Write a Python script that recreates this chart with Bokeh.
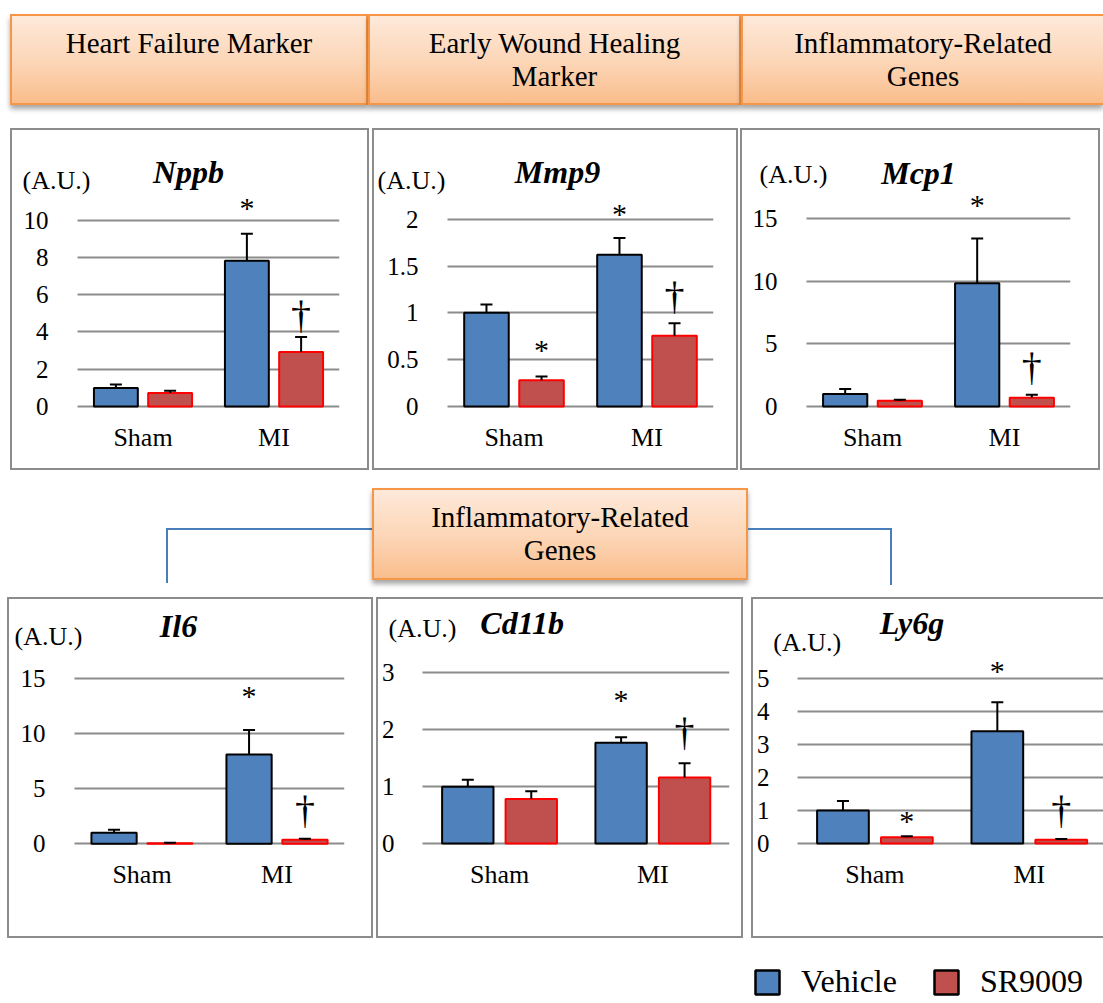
from bokeh.plotting import figure
from bokeh.models import (Range1d, FixedTicker, ColumnDataSource, Whisker, TeeHead, Label,
                          Div, Spacer, Legend, LegendItem, NumeralTickFormatter, Grid)
from bokeh.layouts import row, column
from bokeh.embed import file_html
from bokeh.resources import INLINE
from bokeh.core.properties import value

# ---------------- data ----------------
categories = ["Sham", "MI"]
series_names = ["Vehicle", "SR9009"]

nppb_vehicle = [1.00, 7.82]
nppb_vehicle_err = [0.18, 1.45]
nppb_sr9009 = [0.73, 2.92]
nppb_sr9009_err = [0.12, 0.81]
nppb_ticks = [0, 2, 4, 6, 8, 10]
nppb_mark_cat = ["MI", "MI"]
nppb_mark_series = ["Vehicle", "SR9009"]
nppb_mark_sym = ["*", "†"]
nppb_mark_y = [10.7, 4.92]

mmp9_vehicle = [1.00, 1.62]
mmp9_vehicle_err = [0.09, 0.18]
mmp9_sr9009 = [0.28, 0.755]
mmp9_sr9009_err = [0.04, 0.135]
mmp9_ticks = [0, 0.5, 1, 1.5, 2]
mmp9_mark_cat = ["Sham", "MI", "MI"]
mmp9_mark_series = ["SR9009", "Vehicle", "SR9009"]
mmp9_mark_sym = ["*", "*", "†"]
mmp9_mark_y = [0.61, 2.06, 1.18]

mcp1_vehicle = [1.00, 9.84]
mcp1_vehicle_err = [0.40, 3.56]
mcp1_sr9009 = [0.45, 0.69]
mcp1_sr9009_err = [0.08, 0.24]
mcp1_ticks = [0, 5, 10, 15]
mcp1_mark_cat = ["MI", "MI"]
mcp1_mark_series = ["Vehicle", "SR9009"]
mcp1_mark_sym = ["*", "†"]
mcp1_mark_y = [16.1, 3.19]

il6_vehicle = [1.00, 8.09]
il6_vehicle_err = [0.27, 2.21]
il6_sr9009 = [0.06, 0.38]
il6_sr9009_err = [0.04, 0.08]
il6_ticks = [0, 5, 10, 15]
il6_mark_cat = ["MI", "MI"]
il6_mark_series = ["Vehicle", "SR9009"]
il6_mark_sym = ["*", "†"]
il6_mark_y = [13.4, 3.15]

cd11b_vehicle = [1.00, 1.77]
cd11b_vehicle_err = [0.12, 0.10]
cd11b_sr9009 = [0.785, 1.16]
cd11b_sr9009_err = [0.135, 0.25]
cd11b_ticks = [0, 1, 2, 3]
cd11b_mark_cat = ["MI", "MI"]
cd11b_mark_series = ["Vehicle", "SR9009"]
cd11b_mark_sym = ["*", "†"]
cd11b_mark_y = [2.53, 1.97]

ly6g_vehicle = [1.00, 3.40]
ly6g_vehicle_err = [0.29, 0.88]
ly6g_sr9009 = [0.19, 0.11]
ly6g_sr9009_err = [0.03, 0.03]
ly6g_ticks = [0, 1, 2, 3, 4, 5]
ly6g_mark_cat = ["Sham", "MI", "MI"]
ly6g_mark_series = ["SR9009", "Vehicle", "SR9009"]
ly6g_mark_sym = ["*", "*", "†"]
ly6g_mark_y = [0.70, 5.24, 1.03]

header_top = ["Heart Failure Marker", "Early Wound Healing<br>Marker", "Inflammatory-Related<br>Genes"]
header_mid = "Inflammatory-Related<br>Genes"

# ---------------- style ----------------
BLUE = "#4F81BD"
RED = "#C0504D"
RED_LINE = "#FF0000"
GRID = "#8c8c8c"
SERIF = "Liberation Serif"
BAR_W = 0.335
BAR_OFF = 0.207
FRAME_PAD = 3
fill_colors = {"Vehicle": BLUE, "SR9009": RED}
line_colors = {"Vehicle": "black", "SR9009": RED_LINE}
offsets = {"Vehicle": -BAR_OFF, "SR9009": BAR_OFF}
HAS_CROSS = "cross_bounds" in Grid.properties()


def make_panel(title, vehicle, vehicle_err, sr, sr_err, ticks,
               mark_cat, mark_series, mark_sym, mark_y, geo):
    W, H = geo["w"], geo["h"]
    g0, g1 = geo["g0"], geo["g1"]          # plot area (grid) left/right in px
    zero, tick_px = geo["zero"], geo["tick"]
    fl = FRAME_PAD
    ft = FRAME_PAD
    fr = max(W - g1, 0)
    scale = (zero - tick_px) / ticks[-1]
    cat_px = geo.get("cat_px", (g1 - g0) / len(categories))
    x_start = -0.5 - (g0 - fl) / cat_px
    x_end = -0.5 + (W - fr - g0) / cat_px
    grid_end = -0.5 + (min(g1, W - fr) - g0) / cat_px
    y_start = -3.0 / scale
    y_end = (zero - ft) / scale
    styles = {"border": "2px solid #8c8c8c", "box-sizing": "border-box"}
    if geo.get("no_right_border"):
        styles["border-right"] = "none"
    p = figure(width=W, height=H, x_range=Range1d(x_start, x_end),
               y_range=Range1d(y_start, y_end), output_backend="svg",
               toolbar_location=None, min_border=0,
               min_border_left=fl, min_border_right=fr, min_border_top=ft,
               min_border_bottom=H - zero - 3, styles=styles, margin=0)
    p.outline_line_color = None
    p.xgrid.visible = False
    yt = FixedTicker(ticks=ticks)
    p.yaxis.ticker = yt
    p.yaxis.formatter = NumeralTickFormatter(format="0.[0]")
    if HAS_CROSS:
        p.ygrid.ticker = yt
        p.ygrid.grid_line_color = GRID
        p.ygrid.grid_line_width = 2
        p.ygrid.cross_bounds = (-0.5, grid_end)
    else:
        p.ygrid.visible = False
        p.segment(x0=[-0.5] * len(ticks), x1=[grid_end] * len(ticks), y0=ticks, y1=ticks,
                  line_color=GRID, line_width=2, level="underlay")
    idx = list(range(len(categories)))
    p.xaxis.ticker = FixedTicker(ticks=idx)
    p.xaxis.major_label_overrides = {i: c for i, c in zip(idx, categories)}
    for ax in (p.xaxis, p.yaxis):
        ax.axis_line_color = None
        ax.major_tick_line_color = None
        ax.minor_tick_line_color = None
        ax.major_label_text_font = SERIF
        ax.major_label_text_color = "black"
    p.yaxis.major_label_text_font_size = "25px"
    p.xaxis.major_label_text_font_size = "26px"
    # tick labels end 23px left of the plot area, which starts inside the frame
    p.yaxis.major_label_standoff = fl - (g0 - 23)
    p.xaxis.major_label_standoff = 7

    for name, vals, errs in (("Vehicle", vehicle, vehicle_err), ("SR9009", sr, sr_err)):
        src = ColumnDataSource(dict(
            x=[i + offsets[name] for i in idx], top=vals,
            upper=[v + e for v, e in zip(vals, errs)], lower=vals))
        p.vbar(x="x", top="top", bottom=0, width=BAR_W, source=src,
               fill_color=fill_colors[name], line_color=line_colors[name], line_width=2)
        p.add_layout(Whisker(source=src, base="x", upper="upper", lower="lower",
                             line_color="black", line_width=2,
                             upper_head=TeeHead(size=12, line_width=2, line_color="black"),
                             lower_head=None, level="glyph"))

    msrc = ColumnDataSource(dict(
        x=[categories.index(c) + offsets[s] for c, s in zip(mark_cat, mark_series)],
        y=mark_y, text=mark_sym,
        size=["30px" if m == "*" else "40px" for m in mark_sym]))
    p.text(x="x", y="y", text="text", source=msrc, text_align="center",
           text_baseline="middle", text_font=value(SERIF), text_font_size="size",
           text_color="black")

    def to_data(px, py):
        return x_start + (px - fl) / cat_px, (zero - py) / scale

    tx, ty = to_data(*geo["title"])
    p.add_layout(Label(x=tx, y=ty, text=title, text_font=SERIF, text_font_style="bold italic",
                       text_font_size="32px", text_align="center", text_baseline="middle",
                       text_color="black"))
    ax_, ay_ = to_data(*geo["au"])
    p.add_layout(Label(x=ax_, y=ay_, text="(A.U.)", text_font=SERIF, text_font_size="26px",
                       text_align="left", text_baseline="middle", text_color="black"))
    return p


# inner positions are measured from the inside of the 2px panel border
geo1 = dict(w=359, h=342, g0=65, g1=327, zero=277, tick=90, title=(176, 42), au=(10, 50))
geo2 = dict(w=366, h=342, g0=73, g1=339, zero=277, tick=89, title=(183, 42), au=(3, 50))
geo3 = dict(w=360, h=342, g0=64, g1=328, zero=276, tick=88, title=(176, 42), au=(17, 44))
geo4 = dict(w=366, h=341, g0=65, g1=335, zero=274, tick=88, title=(169, 29), au=(5, 41))
geo5 = dict(w=367, h=341, g0=39, g1=351, zero=246, tick=74, title=(140, 24), au=(4, 29))
geo6 = dict(w=352, h=341, g0=37, g1=352, zero=244, tick=79, cat_px=158,
            title=(154, 23), au=(12, 43), no_right_border=True)

p1 = make_panel("Nppb", nppb_vehicle, nppb_vehicle_err, nppb_sr9009, nppb_sr9009_err, nppb_ticks,
                nppb_mark_cat, nppb_mark_series, nppb_mark_sym, nppb_mark_y, geo1)
p2 = make_panel("Mmp9", mmp9_vehicle, mmp9_vehicle_err, mmp9_sr9009, mmp9_sr9009_err, mmp9_ticks,
                mmp9_mark_cat, mmp9_mark_series, mmp9_mark_sym, mmp9_mark_y, geo2)
p3 = make_panel("Mcp1", mcp1_vehicle, mcp1_vehicle_err, mcp1_sr9009, mcp1_sr9009_err, mcp1_ticks,
                mcp1_mark_cat, mcp1_mark_series, mcp1_mark_sym, mcp1_mark_y, geo3)
p4 = make_panel("Il6", il6_vehicle, il6_vehicle_err, il6_sr9009, il6_sr9009_err, il6_ticks,
                il6_mark_cat, il6_mark_series, il6_mark_sym, il6_mark_y, geo4)
p5 = make_panel("Cd11b", cd11b_vehicle, cd11b_vehicle_err, cd11b_sr9009, cd11b_sr9009_err, cd11b_ticks,
                cd11b_mark_cat, cd11b_mark_series, cd11b_mark_sym, cd11b_mark_y, geo5)
p6 = make_panel("Ly6g", ly6g_vehicle, ly6g_vehicle_err, ly6g_sr9009, ly6g_sr9009_err, ly6g_ticks,
                ly6g_mark_cat, ly6g_mark_series, ly6g_mark_sym, ly6g_mark_y, geo6)


def header(text, w, h, right_border=True):
    st = {"background": "linear-gradient(to bottom, #fee9da 0%, #fcd5b5 55%, #fabd8c 100%)",
          "border": "2px solid #f79646", "box-sizing": "border-box",
          "box-shadow": "0px 4px 5px rgba(0,0,0,0.35)", "text-align": "center",
          "font-family": SERIF, "font-size": "29px", "line-height": "33px", "color": "black"}
    if not right_border:
        st["border-right"] = "none"
    return Div(text='<div style="padding-top:11px">%s</div>' % text, width=w, height=h,
               styles=st, margin=0)


h1 = header(header_top[0], 358, 91)
h2 = header(header_top[1], 373, 91)
h3 = header(header_top[2], 362, 91, right_border=False)
hm = header(header_mid, 376, 92)

CONN = "2px solid #4a7ebb"
conn_left = Div(text="", width=206, height=55, margin=0,
                styles={"border-top": CONN, "border-left": CONN, "box-sizing": "border-box"})
conn_right = Div(text="", width=144, height=57, margin=0,
                 styles={"border-top": CONN, "border-right": CONN, "box-sizing": "border-box"})

# legend figure
leg = figure(width=351, height=53, output_backend="svg", toolbar_location=None,
             x_range=Range1d(0, 1), y_range=Range1d(0, 1), min_border=0, margin=0)
leg.axis.visible = False
leg.grid.visible = False
leg.outline_line_color = None
items = []
for name in series_names:
    # zero-size bar: only its legend swatch is visible
    r = leg.vbar(x=[0.5], top=[0], bottom=[0], width=0, fill_color=fill_colors[name],
                 line_color="black", line_width=2.5)
    items.append(LegendItem(label=name, renderers=[r]))
legend = Legend(items=items, orientation="horizontal", location="bottom_left",
                glyph_width=30, glyph_height=30, label_text_font=SERIF,
                label_text_font_size="32px", label_text_color="black",
                label_standoff=19, spacing=34, padding=0, margin=3,
                border_line_alpha=0, background_fill_alpha=0)
leg.add_layout(legend)

row_headers = row(Spacer(width=10, height=91), h1, h2, h3)
row_panels1 = row(Spacer(width=10, height=10), p1, Spacer(width=3, height=10), p2,
                  Spacer(width=2, height=10), p3)
mid = row(Spacer(width=166, height=1),
          column(Spacer(width=10, height=58), conn_left),
          column(Spacer(width=10, height=18), hm),
          column(Spacer(width=10, height=58), conn_right))
row_panels2 = row(Spacer(width=7, height=10), p4, Spacer(width=3, height=10), p5,
                  Spacer(width=8, height=10), p6)
row_legend = row(Spacer(width=749, height=10), leg)

root = column(Spacer(width=10, height=14), row_headers, Spacer(width=10, height=23), row_panels1,
              mid, Spacer(width=10, height=12), row_panels2, Spacer(width=10, height=12), row_legend)

open("out.html", "w").write(file_html(root, INLINE))
